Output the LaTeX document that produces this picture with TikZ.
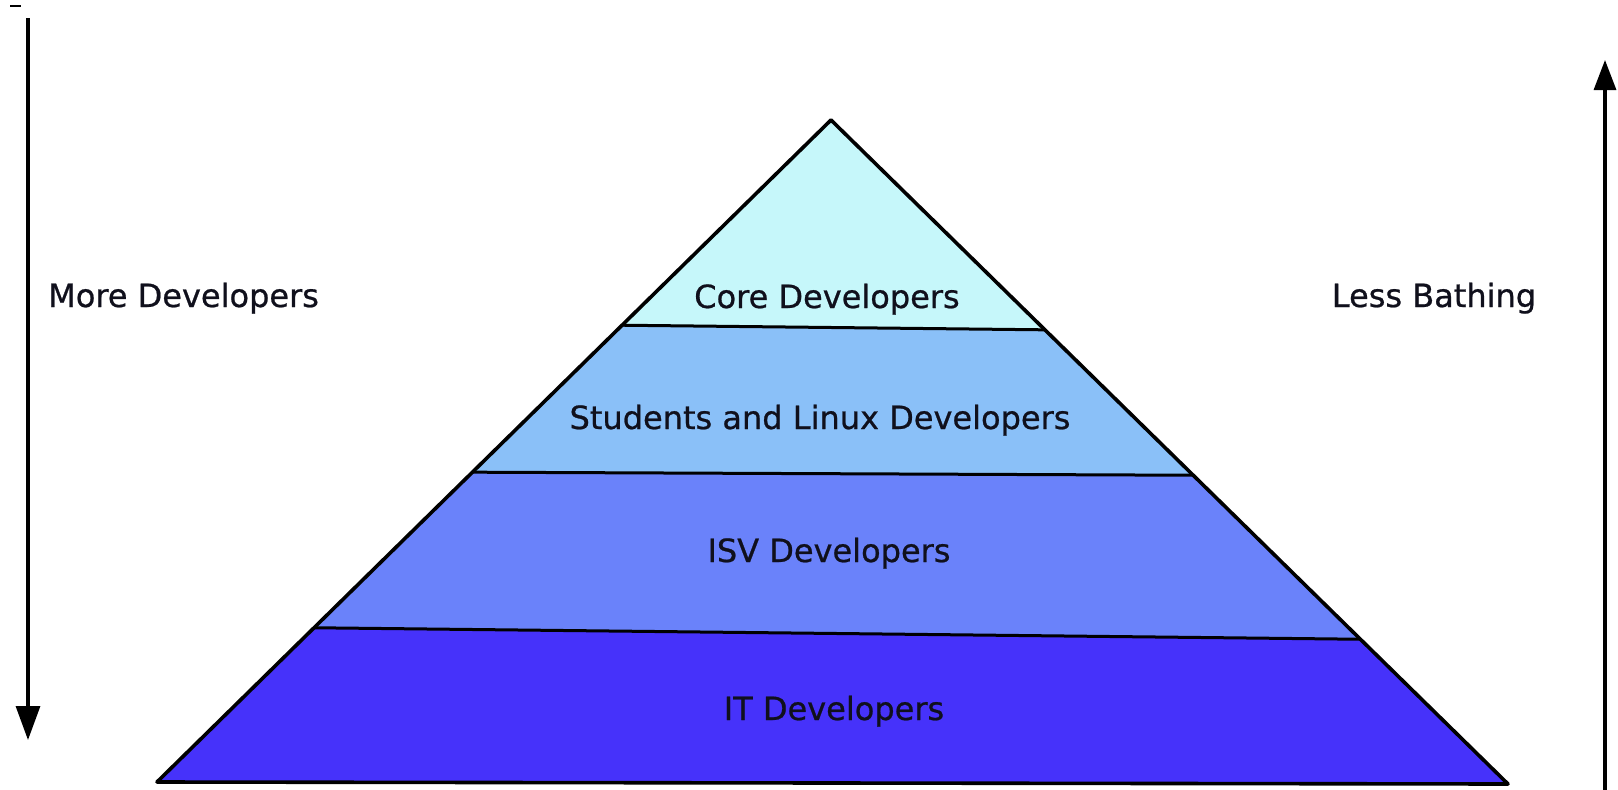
\documentclass[tikz,border=0pt]{standalone}
\usepackage{fontspec}
\setmainfont{DejaVu Sans}
\newfontfamily\lblfont{DejaVu Sans}[FakeBold=0.7]
\usetikzlibrary{calc,arrows.meta}
\definecolor{coreC}{HTML}{C6F7FA}
\definecolor{studC}{HTML}{8AC0F8}
\definecolor{isvC}{HTML}{6A82FA}
\definecolor{itC}{HTML}{4632FA}
\definecolor{txtC}{HTML}{10101C}
\tikzset{
  lbl/.style={font=\lblfont\fontsize{32}{39}\selectfont, text=txtC, inner sep=0pt, anchor=base},
  edge/.style={draw=black, line width=3pt, line join=round},
  axisarrow/.style={draw=black, line width=3.2pt}
}
\begin{document}
\begin{tikzpicture}[x=1pt,y=-1pt]
\useasboundingbox (0,0) rectangle (1618,790);
\coordinate (A) at (831,120);
\coordinate (BL) at (157,782);
\coordinate (BR) at (1508,784);
\coordinate (L1) at ($(A)!0.310!(BL)$);
\coordinate (R1) at ($(A)!0.316!(BR)$);
\coordinate (L2) at ($(A)!0.532!(BL)$);
\coordinate (R2) at ($(A)!0.535!(BR)$);
\coordinate (L3) at ($(A)!0.767!(BL)$);
\coordinate (R3) at ($(A)!0.782!(BR)$);
% bands
\fill[coreC] (A) -- (L1) -- (R1) -- cycle;
\fill[studC] (L1) -- (L2) -- (R2) -- (R1) -- cycle;
\fill[isvC] (L2) -- (L3) -- (R3) -- (R2) -- cycle;
\fill[itC] (L3) -- (BL) -- (BR) -- (R3) -- cycle;
% outlines
\draw[edge] (L1) -- (R1);
\draw[edge] (L2) -- (R2);
\draw[edge] (L3) -- (R3);
\draw[edge, line width=3.6pt] (A) -- (BL) -- (BR) -- cycle;
% labels
\node[lbl] (core) at (827,308) {Core Developers};
\node[lbl] (stud) at (820,429) {Students and Linux Developers};
\node[lbl] (isv) at (829,562) {ISV Developers};
\node[lbl] (it) at (834,720) {IT Developers};
\node[lbl, anchor=base west] (more) at (48,307) {More Developers};
\node[lbl] (less) at (1434,307) {Less Bathing};
% arrows
\coordinate (la) at (28,18);
\coordinate (lb) at (28,740);
\draw[axisarrow, -{Triangle[length=34pt,width=24pt]}] (la) -- (lb);
\coordinate (ra) at (1605,792);
\coordinate (rb) at (1605,60);
\draw[axisarrow, -{Triangle[length=30pt,width=22pt]}] (ra) -- (rb);
% small mark top left
\coordinate (ma) at (10,6);
\coordinate (mb) at (21,6);
\draw[line width=1.3pt] (ma) -- (mb);
\end{tikzpicture}
\end{document}
